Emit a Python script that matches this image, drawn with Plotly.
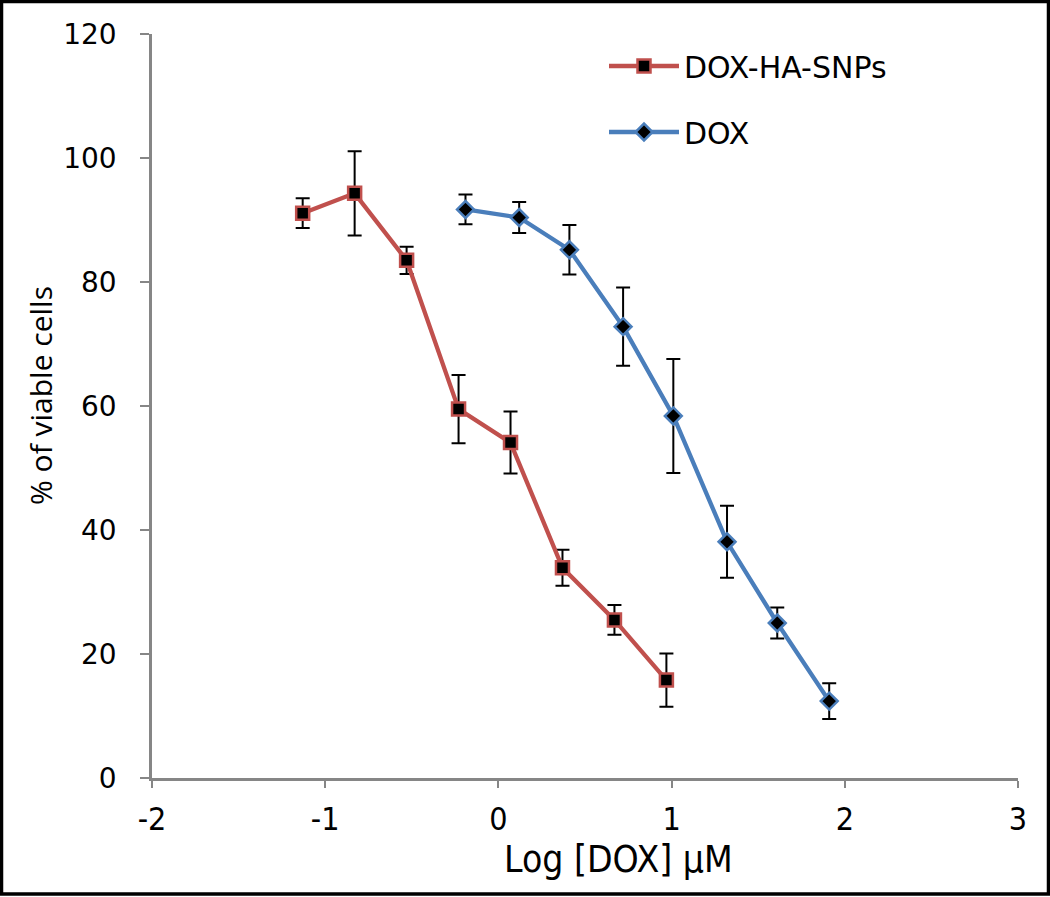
import plotly.graph_objects as go

# DOX-HA-SNPs series
snp_x = [-1.13, -0.83, -0.53, -0.23, 0.07, 0.37, 0.67, 0.97]
snp_y = [91.1, 94.3, 83.5, 59.5, 54.1, 33.9, 25.5, 15.8]
snp_err = [2.4, 6.8, 2.2, 5.5, 5.0, 2.9, 2.4, 4.3]

# DOX series
dox_x = [-0.19, 0.12, 0.41, 0.72, 1.01, 1.32, 1.61, 1.91]
dox_y = [91.7, 90.4, 85.2, 72.8, 58.4, 38.1, 25.0, 12.4]
dox_err = [2.4, 2.5, 4.0, 6.3, 9.2, 5.8, 2.5, 2.9]

x_ticks = [-2, -1, 0, 1, 2, 3]
y_ticks = [0, 20, 40, 60, 80, 100, 120]

RED = "#C0504D"
BLUE = "#4A7EBB"
AXIS = "#868686"

W, H = 1050, 897
L, R, T, B = 152, 32, 34, 119
pw, ph = W - L - R, H - T - B

def px2paper_x(px):
    return (px - L) / pw

def px2paper_y(py):
    return (H - B - py) / ph

fig = go.Figure()
fig.add_trace(go.Scatter(
    x=snp_x, y=snp_y, name="DOX-HA-SNPs", mode="lines+markers",
    legendgroup="a",
    line=dict(color=RED, width=4.3),
    marker=dict(symbol="square", size=13, color="black", line=dict(color=RED, width=2.5)),
    error_y=dict(type="data", array=snp_err, visible=True, color="black", thickness=2, width=7),
))
fig.add_trace(go.Scatter(
    x=dox_x, y=dox_y, name="DOX", mode="lines+markers",
    legendgroup="b",
    line=dict(color=BLUE, width=4.3),
    marker=dict(symbol="diamond", size=13, color="black", line=dict(color=BLUE, width=2.5)),
    error_y=dict(type="data", array=dox_err, visible=True, color="black", thickness=2, width=7),
))

XFONT = "Liberation Sans Narrow, DejaVu Sans Condensed, Open Sans"

fig.update_layout(
    width=W, height=H,
    margin=dict(l=L, r=R, t=T, b=B, pad=0),
    paper_bgcolor="white", plot_bgcolor="white",
    font=dict(family="DejaVu Sans", color="black"),
    showlegend=True,
    legend=dict(
        x=px2paper_x(604), y=px2paper_y(40), xanchor="left", yanchor="top",
        font=dict(family="DejaVu Sans", size=30, color="black"),
        bgcolor="rgba(0,0,0,0)", borderwidth=0,
        traceorder="grouped", tracegroupgap=24, itemwidth=70,
    ),
    xaxis=dict(
        range=[-2, 3], tickvals=x_ticks, ticktext=[str(v) for v in x_ticks],
        showgrid=False, zeroline=False, showline=True, linecolor=AXIS, linewidth=2.5,
        ticks="outside", ticklen=7, tickwidth=2, tickcolor=AXIS,
        tickfont=dict(family=XFONT, size=32, color="black"),
        ticklabelstandoff=4,
    ),
    yaxis=dict(
        range=[0, 120], tickvals=y_ticks, ticktext=[str(v) for v in y_ticks],
        showgrid=False, zeroline=False, showline=True, linecolor=AXIS, linewidth=2.5,
        ticks="outside", ticklen=9, tickwidth=2, tickcolor=AXIS,
        tickfont=dict(family="DejaVu Sans", size=28, color="black"),
        ticklabelstandoff=18,
    ),
    annotations=[
        dict(text="Log [DOX] \u03bcM", xref="paper", yref="paper",
             x=px2paper_x(618), y=px2paper_y(860), xanchor="center", yanchor="middle",
             showarrow=False, font=dict(family=XFONT, size=37, color="black")),
        dict(text="% of viable cells", xref="paper", yref="paper",
             x=px2paper_x(40), y=px2paper_y(395), xanchor="center", yanchor="middle",
             textangle=-90, showarrow=False, font=dict(family="Open Sans", size=30, color="black")),
    ],
    shapes=[
        dict(type="rect", xref="paper", yref="paper",
             x0=px2paper_x(1.5), x1=px2paper_x(1048.5),
             y0=px2paper_y(894), y1=px2paper_y(1.5),
             line=dict(color="black", width=3.5), fillcolor="rgba(0,0,0,0)", layer="above"),
    ],
)

fig.write_html("out.html", config={"displayModeBar": False},
               post_script="document.body.style.margin='0';document.body.style.overflow='hidden';")
